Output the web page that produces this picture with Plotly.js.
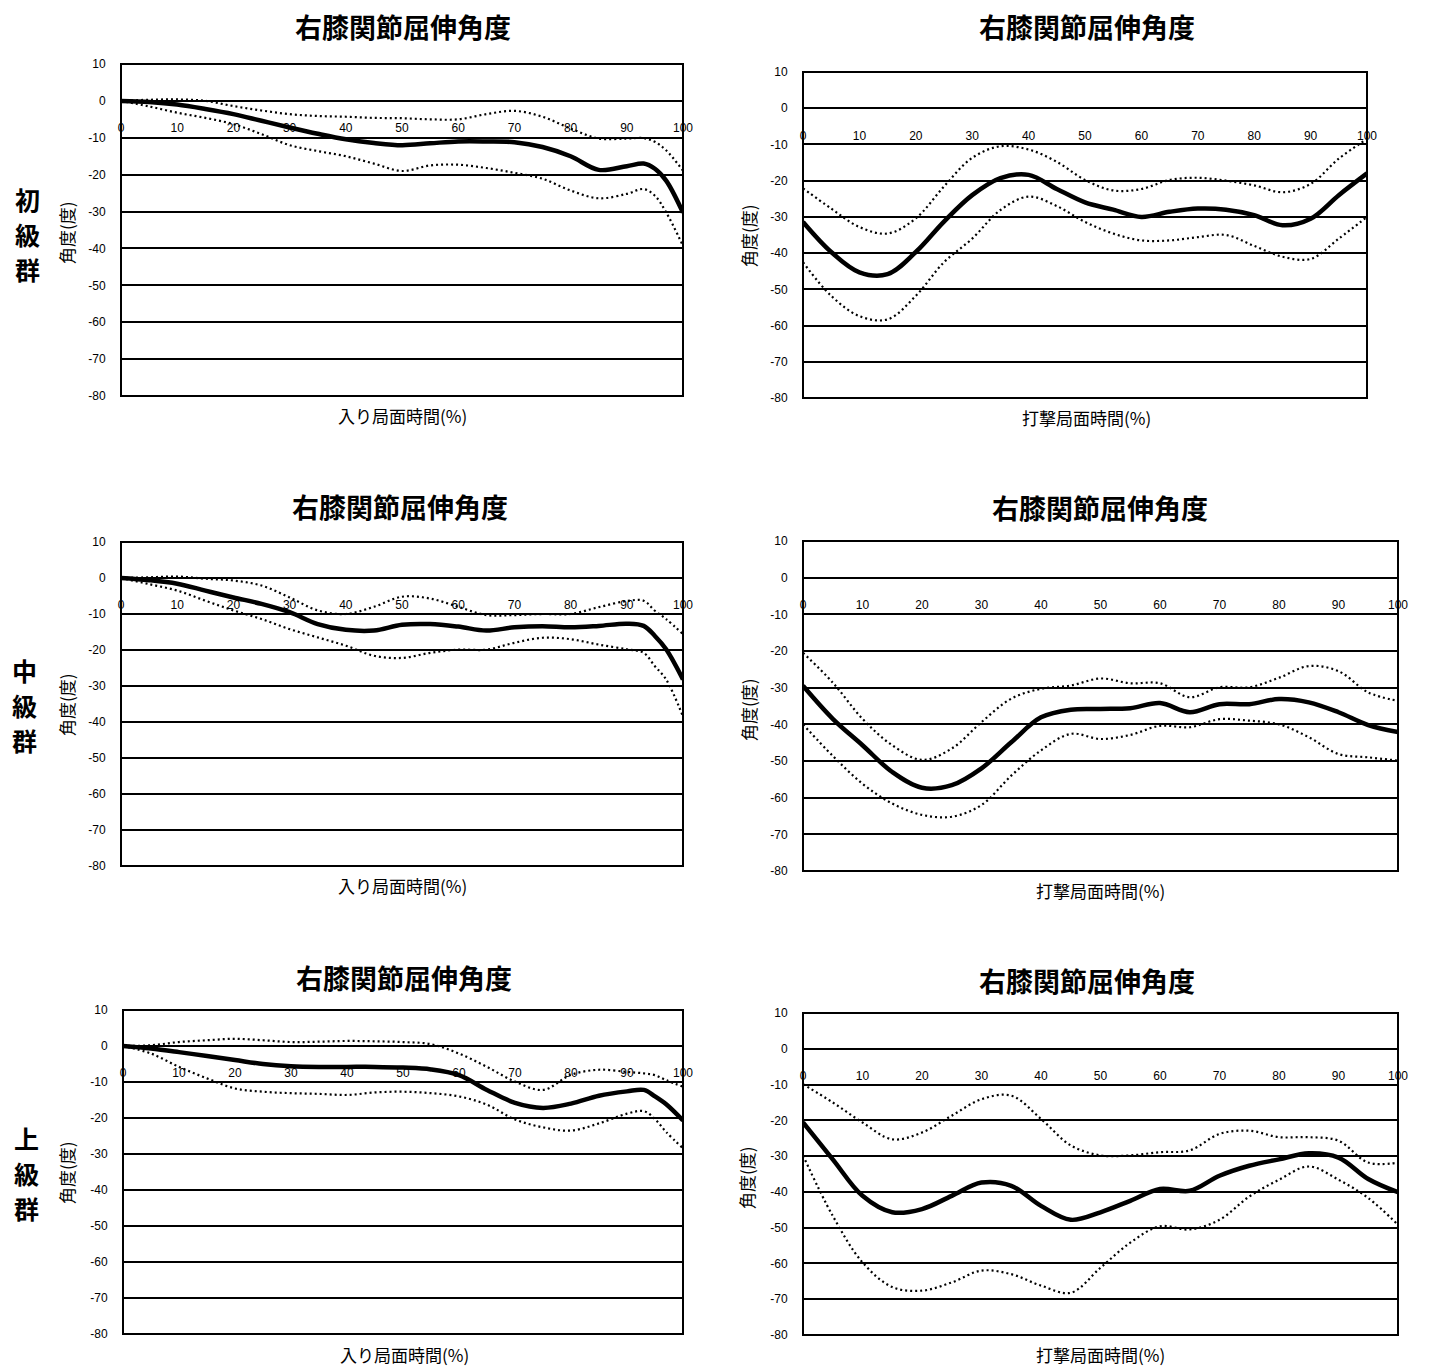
<!DOCTYPE html>
<html><head><meta charset="utf-8">
<script src="https://cdn.plot.ly/plotly-3.0.1.min.js"></script>
<style>html,body{margin:0;padding:0;background:#fff}#chart{width:1429px;height:1367px}</style>
</head><body><div id="chart"></div>
<script>
// ---------- DATA ----------
const chartTitle = '右膝関節屈伸角度';
const yAxisTitle = '角度(度)';
const xTitleEntry = '入り局面時間(%)';
const xTitleStrike = '打撃局面時間(%)';
const groupLabels = ['初級群', '中級群', '上級群'];
const xTicks = [0, 10, 20, 30, 40, 50, 60, 70, 80, 90, 100];
const yTicks = [10, 0, -10, -20, -30, -40, -50, -60, -70, -80];

const xEntry = [0, 5, 10, 15, 20, 25, 30, 35, 40, 45, 50, 55, 60, 65, 70, 75, 80, 85, 90, 93, 95, 97, 100];
const xStrike = [0, 5, 10, 15, 20, 25, 30, 35, 40, 45, 50, 55, 60, 65, 70, 75, 80, 85, 90, 95, 100];

// 初級群 入り局面
const begEntryMean  = [0, -0.3, -1, -2.2, -3.6, -5.4, -7.2, -8.9, -10.4, -11.4, -12, -11.5, -11, -11, -11.2, -12.5, -15, -18.7, -17.7, -17, -18.4, -21.6, -30.3];
const begEntryUpper = [0, 0.3, 0.4, 0, -1.4, -2.6, -3.6, -4.1, -4.3, -4.6, -4.7, -5, -5, -3.6, -2.7, -4.3, -7.5, -10.2, -10.2, -10.1, -11.1, -13.4, -18.9];
const begEntryLower = [0, -1.5, -3.2, -4.6, -6.3, -9, -12, -13.6, -15, -17, -19, -17.5, -17.3, -18.2, -19.5, -21.1, -24.3, -26.4, -25.2, -23.9, -25.7, -30.2, -39.3];
// 初級群 打撃局面
const begStrikeMean  = [-31.4, -39.7, -45.3, -45.8, -39.7, -31.3, -24, -19.3, -18.4, -22.3, -26, -28, -30, -28.6, -27.7, -28, -29.5, -32.3, -30.5, -24, -18];
const begStrikeUpper = [-22.1, -27.7, -32.8, -34.6, -30.4, -21.6, -13.7, -10.5, -11.4, -14.8, -19.8, -22.7, -22.3, -19.8, -19.2, -20, -21.3, -23.2, -20.9, -13.9, -8.5];
const begStrikeLower = [-42.5, -51.8, -57.4, -58.3, -51.8, -42.5, -36, -28.1, -24.4, -27, -31.4, -34.6, -36.5, -36.5, -35.6, -35, -38, -41, -41.6, -36, -30];
// 中級群 入り局面
const midEntryMean  = [0, -0.6, -1.6, -3.5, -5.4, -7.2, -9.5, -12.8, -14.4, -14.6, -13, -12.8, -13.5, -14.6, -13.7, -13.4, -13.7, -13.3, -12.7, -13.3, -16.1, -19.8, -28.2];
const midEntryUpper = [0, 0.2, 0.4, -0.2, -0.7, -2.1, -5.4, -9, -10, -8, -5.2, -5.7, -8, -10.3, -10.3, -10, -10, -8.1, -6.4, -6.3, -9.1, -11.4, -15.6];
const midEntryLower = [0, -1.7, -3.5, -6.3, -9, -11.4, -14.2, -16.5, -18.8, -21.6, -22.2, -20.8, -19.9, -19.9, -18, -16.6, -17, -18.5, -19.8, -20.8, -24.5, -28.2, -38.5];
// 中級群 打撃局面
const midStrikeMean  = [-29.5, -38.5, -45.7, -53, -57.3, -56.6, -52, -44.9, -38.1, -36, -35.8, -35.6, -34.2, -36.7, -34.5, -34.5, -33.1, -34, -36.7, -40.2, -42.1];
const midStrikeUpper = [-20.5, -28.6, -38.5, -45.7, -49.7, -46.6, -39.4, -33, -30.3, -29.4, -27.5, -28.8, -28.8, -32.6, -29.9, -29.9, -27.3, -24.1, -25.5, -31.3, -33.6];
const midStrikeLower = [-40, -48.6, -56.2, -61.6, -64.7, -65.2, -62, -54, -47.1, -42.6, -44, -42.9, -40.4, -40.8, -38.6, -39, -40, -43.5, -48.1, -49, -49.9];
// 上級群 入り局面
const advEntryMean  = [0, -0.7, -1.7, -2.8, -3.9, -5, -5.6, -5.8, -5.8, -5.8, -6, -6.5, -8.1, -12.2, -15.8, -17.2, -16, -13.8, -12.6, -12.2, -14, -16.2, -20.7];
const advEntryUpper = [0, 0.2, 1.1, 1.6, 2, 1.6, 1.1, 1.2, 1.4, 1.3, 1.1, 0.5, -2.1, -5.8, -9.9, -12.2, -8, -6.6, -7.2, -7.6, -8.1, -9.5, -11.3];
const advEntryLower = [0, -2.1, -5.8, -9, -11.8, -12.7, -13.1, -13.3, -13.6, -12.9, -12.7, -13.1, -14, -16.3, -20.4, -22.6, -23.5, -21.5, -18.8, -18.1, -20.3, -23.9, -28.4];
// 上級群 打撃局面
const advStrikeMean  = [-20.6, -30.9, -41.1, -45.7, -44.8, -41.1, -37.4, -38.3, -43.9, -47.8, -45.7, -42.5, -39.2, -39.7, -35.5, -32.7, -30.9, -29.2, -30.4, -36.4, -40.1];
const advStrikeUpper = [-9.9, -15, -20.6, -25.3, -23.4, -18.7, -14.1, -13.1, -19.6, -27, -29.8, -29.8, -28.9, -28.4, -23.8, -22.9, -24.7, -24.7, -25.7, -31.8, -31.8];
const advStrikeLower = [-29.8, -46.7, -59.7, -66.6, -67.6, -65.3, -62, -63, -66.2, -68.2, -61.2, -54.2, -49.6, -50.5, -47.8, -41.3, -36.6, -32.9, -36.6, -41.7, -49.2];

// ---------- LAYOUT ----------
const W = 1429, H = 1367;
const fx = v => v / W, fy = v => 1 - v / H;
const FONT = 'Liberation Sans, Arial, sans-serif';
const CJK = 'Noto Sans CJK JP, sans-serif';

const panels = [
  {x: xEntry,  s: [begEntryMean, begEntryUpper, begEntryLower],   box: [121, 64, 683, 396],   title: [403, 27],   xt: [402, 415],  yt: [66, 233],   xl: xTitleEntry},
  {x: xStrike, s: [begStrikeMean, begStrikeUpper, begStrikeLower], box: [803, 72, 1367, 398],  title: [1087, 27],  xt: [1086, 417], yt: [748, 236],  xl: xTitleStrike},
  {x: xEntry,  s: [midEntryMean, midEntryUpper, midEntryLower],   box: [121, 542, 683, 866],  title: [400, 506],  xt: [402, 885],  yt: [66, 705],   xl: xTitleEntry},
  {x: xStrike, s: [midStrikeMean, midStrikeUpper, midStrikeLower], box: [803, 541, 1398, 871], title: [1100, 508], xt: [1100, 890], yt: [748, 710],  xl: xTitleStrike},
  {x: xEntry,  s: [advEntryMean, advEntryUpper, advEntryLower],   box: [123, 1010, 683, 1334], title: [404, 977],  xt: [404, 1354], yt: [66, 1173],  xl: xTitleEntry},
  {x: xStrike, s: [advStrikeMean, advStrikeUpper, advStrikeLower], box: [803, 1013, 1398, 1335], title: [1087, 980], xt: [1100, 1354], yt: [746, 1178], xl: xTitleStrike}
];
const rowLabelCenter = [[27, 234], [24, 705], [26, 1173]];
const rowPitch = 35;

const traces = [];
const layout = {
  width: W, height: H, margin: {l: 0, r: 0, t: 0, b: 0},
  paper_bgcolor: '#fff', plot_bgcolor: '#fff', showlegend: false,
  annotations: [], shapes: []
};

panels.forEach((p, i) => {
  const n = i + 1;
  const sfx = n === 1 ? '' : String(n);
  const xa = 'x' + sfx, ya = 'y' + sfx;
  const [l, t, r, b] = p.box;
  const yd = [fy(b), fy(t)];
  const zeroPos = yd[0] + (0 - (-80)) / 90 * (yd[1] - yd[0]);
  layout['xaxis' + sfx] = {
    domain: [fx(l), fx(r)], range: [0, 100], anchor: 'free', position: zeroPos,
    showgrid: false, zeroline: false, showline: false,
    tickvals: xTicks, ticktext: xTicks.map(String),
    ticks: 'outside', ticklen: 16, tickcolor: 'rgba(0,0,0,0)',
    tickfont: {family: FONT, size: 12, color: '#000'}, fixedrange: true
  };
  layout['yaxis' + sfx] = {
    domain: yd, range: [-80, 10], anchor: xa,
    showgrid: true, gridcolor: '#000', gridwidth: 2, zeroline: false,
    showline: false, tickvals: yTicks, ticktext: yTicks.map(String),
    ticks: 'outside', ticklen: 12, tickcolor: 'rgba(0,0,0,0)',
    tickfont: {family: FONT, size: 12, color: '#000'}, fixedrange: true
  };
  layout.shapes.push({type: 'rect', xref: xa + ' domain', yref: ya + ' domain', x0: 0, x1: 1, y0: 0, y1: 1,
    line: {color: '#000', width: 2}, fillcolor: 'rgba(0,0,0,0)'});
  const dotted = {color: '#000', width: 2.2, dash: '2px,3px', shape: 'spline', smoothing: 1};
  traces.push({x: p.x, y: p.s[1], xaxis: xa, yaxis: ya, mode: 'lines', line: dotted, hoverinfo: 'skip'});
  traces.push({x: p.x, y: p.s[2], xaxis: xa, yaxis: ya, mode: 'lines', line: dotted, hoverinfo: 'skip'});
  traces.push({x: p.x, y: p.s[0], xaxis: xa, yaxis: ya, mode: 'lines', line: {color: '#000', width: 4.5, shape: 'spline', smoothing: 1}, hoverinfo: 'skip'});
  layout.annotations.push({text: '<b>' + chartTitle + '</b>', xref: 'paper', yref: 'paper', x: fx(p.title[0]), y: fy(p.title[1]),
    xanchor: 'center', yanchor: 'middle', showarrow: false, font: {family: CJK, size: 27, color: '#000'}});
  layout.annotations.push({text: p.xl, xref: 'paper', yref: 'paper', x: fx(p.xt[0]), y: fy(p.xt[1]),
    xanchor: 'center', yanchor: 'middle', showarrow: false, font: {family: CJK, size: 17, color: '#000'}});
  layout.annotations.push({text: yAxisTitle, xref: 'paper', yref: 'paper', x: fx(p.yt[0]), y: fy(p.yt[1]), textangle: -90,
    xanchor: 'center', yanchor: 'middle', showarrow: false, font: {family: CJK, size: 17, color: '#000'}});
});

groupLabels.forEach((g, i) => {
  const chars = g.split('');
  chars.forEach((c, k) => {
    const cy = rowLabelCenter[i][1] + (k - (chars.length - 1) / 2) * rowPitch;
    layout.annotations.push({text: '<b>' + c + '</b>', xref: 'paper', yref: 'paper',
      x: fx(rowLabelCenter[i][0]), y: fy(cy), xanchor: 'center', yanchor: 'middle', showarrow: false,
      borderpad: 0, font: {family: CJK, size: 25, color: '#000'}});
  });
});

Plotly.newPlot('chart', traces, layout, {staticPlot: true, displayModeBar: false});
</script></body></html>
